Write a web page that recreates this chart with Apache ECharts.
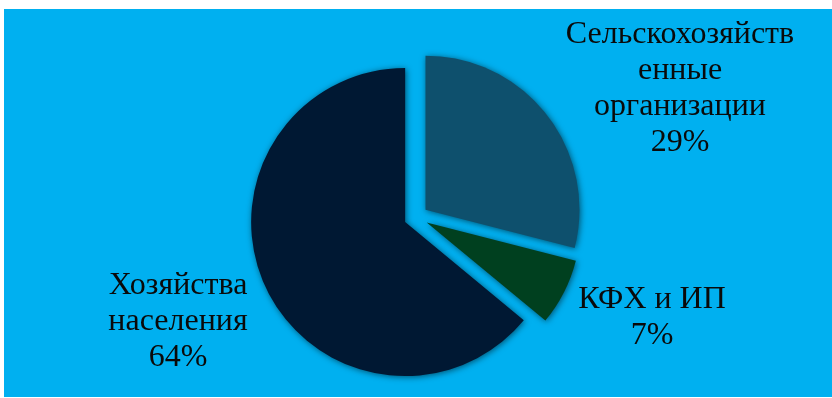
<!DOCTYPE html>
<html>
<head>
<meta charset="utf-8">
<script src="https://cdn.jsdelivr.net/npm/echarts@6/dist/echarts.min.js"></script>
<style>
  html, body { margin: 0; padding: 0; background: #ffffff; }
  #chart { position: absolute; left: 4px; top: 9px; width: 828px; height: 388px; }
</style>
</head>
<body>
<div id="chart"></div>
<script>
// Structure of agricultural producers, share in %
const categories = ['Сельскохозяйств\nенные\nорганизации', 'КФХ и ИП', 'Хозяйства\nнаселения'];
const shares = [29, 7, 64];
const sliceColors = ['#0E506D', '#00401F', '#001833'];

// Where each label block is centred, in chart pixels
const labelSpots = [[676, 80], [648, 309], [174, 313]];

const labelFont = {
  font: '32px "Liberation Serif", "Times New Roman", Times, serif',
  lineHeight: 36,
  fill: '#0a0a0a',
  align: 'center',
  verticalAlign: 'middle'
};

const chart = echarts.init(document.getElementById('chart'), null, { renderer: 'canvas' });

chart.setOption({
  backgroundColor: '#00B0F0',
  animation: false,
  graphic: categories.map((name, i) => ({
    type: 'text',
    x: labelSpots[i][0],
    y: labelSpots[i][1],
    silent: true,
    z: 10,
    style: Object.assign({ text: name + '\n' + shares[i] + '%' }, labelFont)
  })),
  series: [{
    type: 'pie',
    center: [412, 208],
    radius: [0, 154],
    startAngle: 90,
    clockwise: true,
    selectedMode: 'multiple',
    selectedOffset: 12,
    silent: true,
    emphasis: { disabled: true },
    itemStyle: {
      shadowBlur: 6,
      shadowColor: 'rgba(0,0,0,0.55)',
      shadowOffsetX: 1,
      shadowOffsetY: 1
    },
    label: { show: false },
    labelLine: { show: false },
    data: categories.map((name, i) => ({
      name: name,
      value: shares[i],
      selected: true,
      itemStyle: { color: sliceColors[i] }
    }))
  }]
});
</script>
</body>
</html>
